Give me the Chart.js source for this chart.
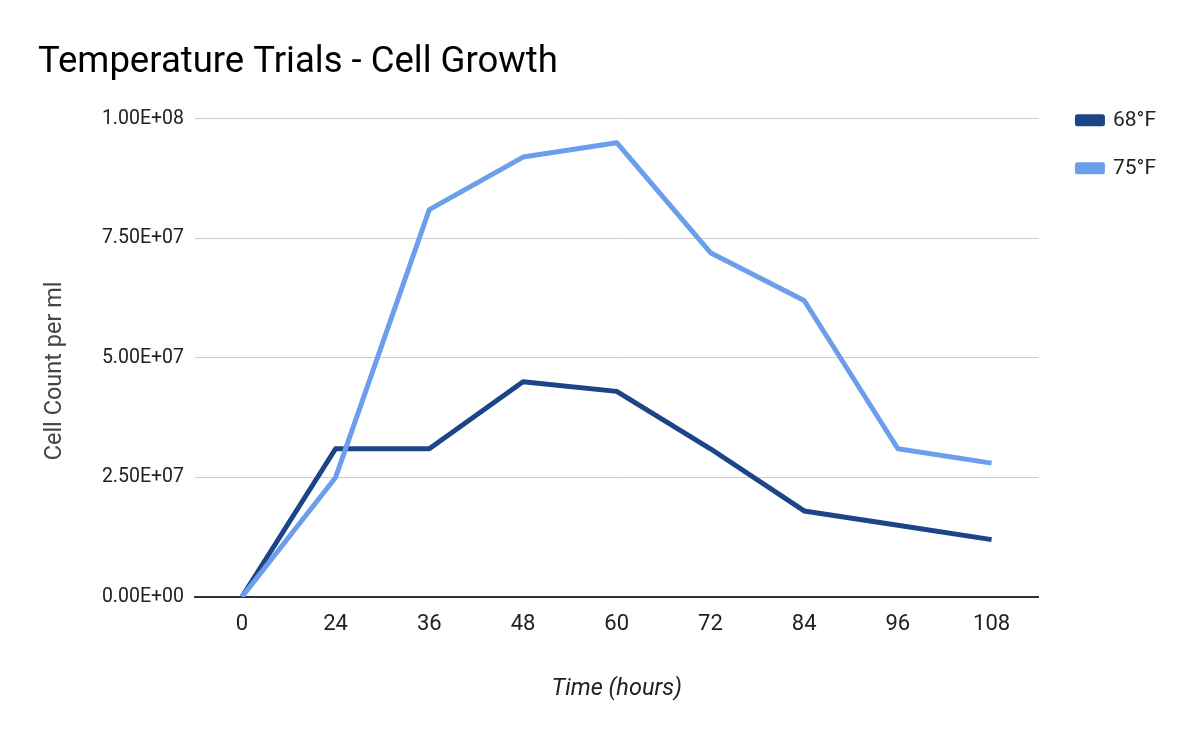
<!DOCTYPE html>
<html>
<head>
<meta charset="utf-8">
<script src="https://cdn.jsdelivr.net/npm/chart.js@4.4.1/dist/chart.umd.min.js"></script>
<style>
  html, body { margin: 0; padding: 0; background: #fff; }
  #wrap { width: 1200px; height: 742px; }
</style>
</head>
<body>
<div id="wrap"><canvas id="chart"></canvas></div>
<script>
// time points (hours) and cell counts per ml
const hours = ["0", "24", "36", "48", "60", "72", "84", "96", "108"];
const temp68 = [0, 3.1e7, 3.1e7, 4.5e7, 4.3e7, 3.1e7, 1.8e7, 1.5e7, 1.2e7];
const temp75 = [0, 2.5e7, 8.1e7, 9.2e7, 9.5e7, 7.2e7, 6.2e7, 3.1e7, 2.8e7];
const seriesNames = ["68°F", "75°F"];
const yTicks = [0, 2.5e7, 5e7, 7.5e7, 1e8];
const yTitle = "Cell Count per ml";

// 1.00E+08 style labels
function sciLabel(v) {
  const s = Number(v).toExponential(2).toUpperCase();
  return s.replace(/E([+-])(\d)$/, "E$10$2");
}

// move legend next to the plot like the sheets chart
const legendSpot = {
  id: "legendSpot",
  afterLayout(chart) {
    const lg = chart.legend;
    const dx = chart.chartArea.right + 12 - lg.left;
    const dy = chart.chartArea.top - 36 - lg.top;
    lg.left += dx; lg.right += dx;
    lg.top += dy; lg.bottom += dy;
  }
};

// y title sits a bit below the middle of the plot in the original
const yTitleDraw = {
  id: "yTitleDraw",
  afterDraw(chart) {
    const y = chart.scales.y;
    const c = chart.ctx;
    c.save();
    c.translate(y.left + 17, (y.top + y.bottom) / 2 + 13);
    c.rotate(-Math.PI / 2);
    c.font = "23.5px Roboto";
    c.fillStyle = "#444";
    c.textAlign = "center";
    c.textBaseline = "middle";
    c.fillText(yTitle, 0, 0);
    c.restore();
  }
};

const ctx = document.getElementById("chart").getContext("2d");
new Chart(ctx, {
  type: "line",
  data: {
    labels: hours,
    datasets: [
      {
        label: seriesNames[0],
        data: temp68,
        borderColor: "#1c4587",
        backgroundColor: "#1c4587",
        borderWidth: 5,
        pointRadius: 0,
        borderJoinStyle: "round",
        order: 1
      },
      {
        label: seriesNames[1],
        data: temp75,
        borderColor: "#6d9eeb",
        backgroundColor: "#6d9eeb",
        borderWidth: 5,
        pointRadius: 0,
        borderJoinStyle: "round",
        order: 0
      }
    ]
  },
  options: {
    responsive: true,
    maintainAspectRatio: false,
    animation: false,
    layout: { padding: { left: 38, right: 46, top: 0, bottom: 0 } },
    plugins: {
      title: {
        display: true,
        text: "Temperature Trials - Cell Growth",
        align: "start",
        color: "#000",
        font: { family: "Roboto", size: 36.5, weight: "normal" },
        padding: { top: 41, bottom: 34 }
      },
      legend: {
        position: "right",
        align: "start",
        fullSize: false,
        labels: {
          boxWidth: 25,
          boxHeight: 7,
          padding: 27,
          color: "#222",
          font: { family: "Roboto", size: 21 },
          sort: (a, b) => a.datasetIndex - b.datasetIndex
        }
      },
      tooltip: { enabled: false }
    },
    scales: {
      x: {
        offset: true,
        grid: { display: false, drawTicks: false },
        border: { display: true, color: "#333", width: 2 },
        ticks: {
          color: "#222",
          padding: 14,
          font: { family: "Roboto", size: 22 }
        },
        title: {
          display: true,
          text: "Time (hours)",
          color: "#222",
          font: { family: "Roboto", size: 23.5, style: "italic" },
          padding: { top: 0, bottom: 39 }
        },
        afterFit(scale) { scale.height = 145; }
      },
      y: {
        min: 0,
        max: 1e8,
        afterBuildTicks(scale) { scale.ticks = yTicks.map(v => ({ value: v })); },
        grid: { color: "#cccccc", lineWidth: 1, drawTicks: false },
        border: { display: false },
        ticks: {
          color: "#222",
          padding: 11,
          font: { family: "Roboto", size: 19.5 },
          callback: (v) => sciLabel(v)
        },
        title: { display: false },
        afterFit(scale) { scale.width = 157; }
      }
    }
  },
  plugins: [legendSpot, yTitleDraw]
});
</script>
</body>
</html>
